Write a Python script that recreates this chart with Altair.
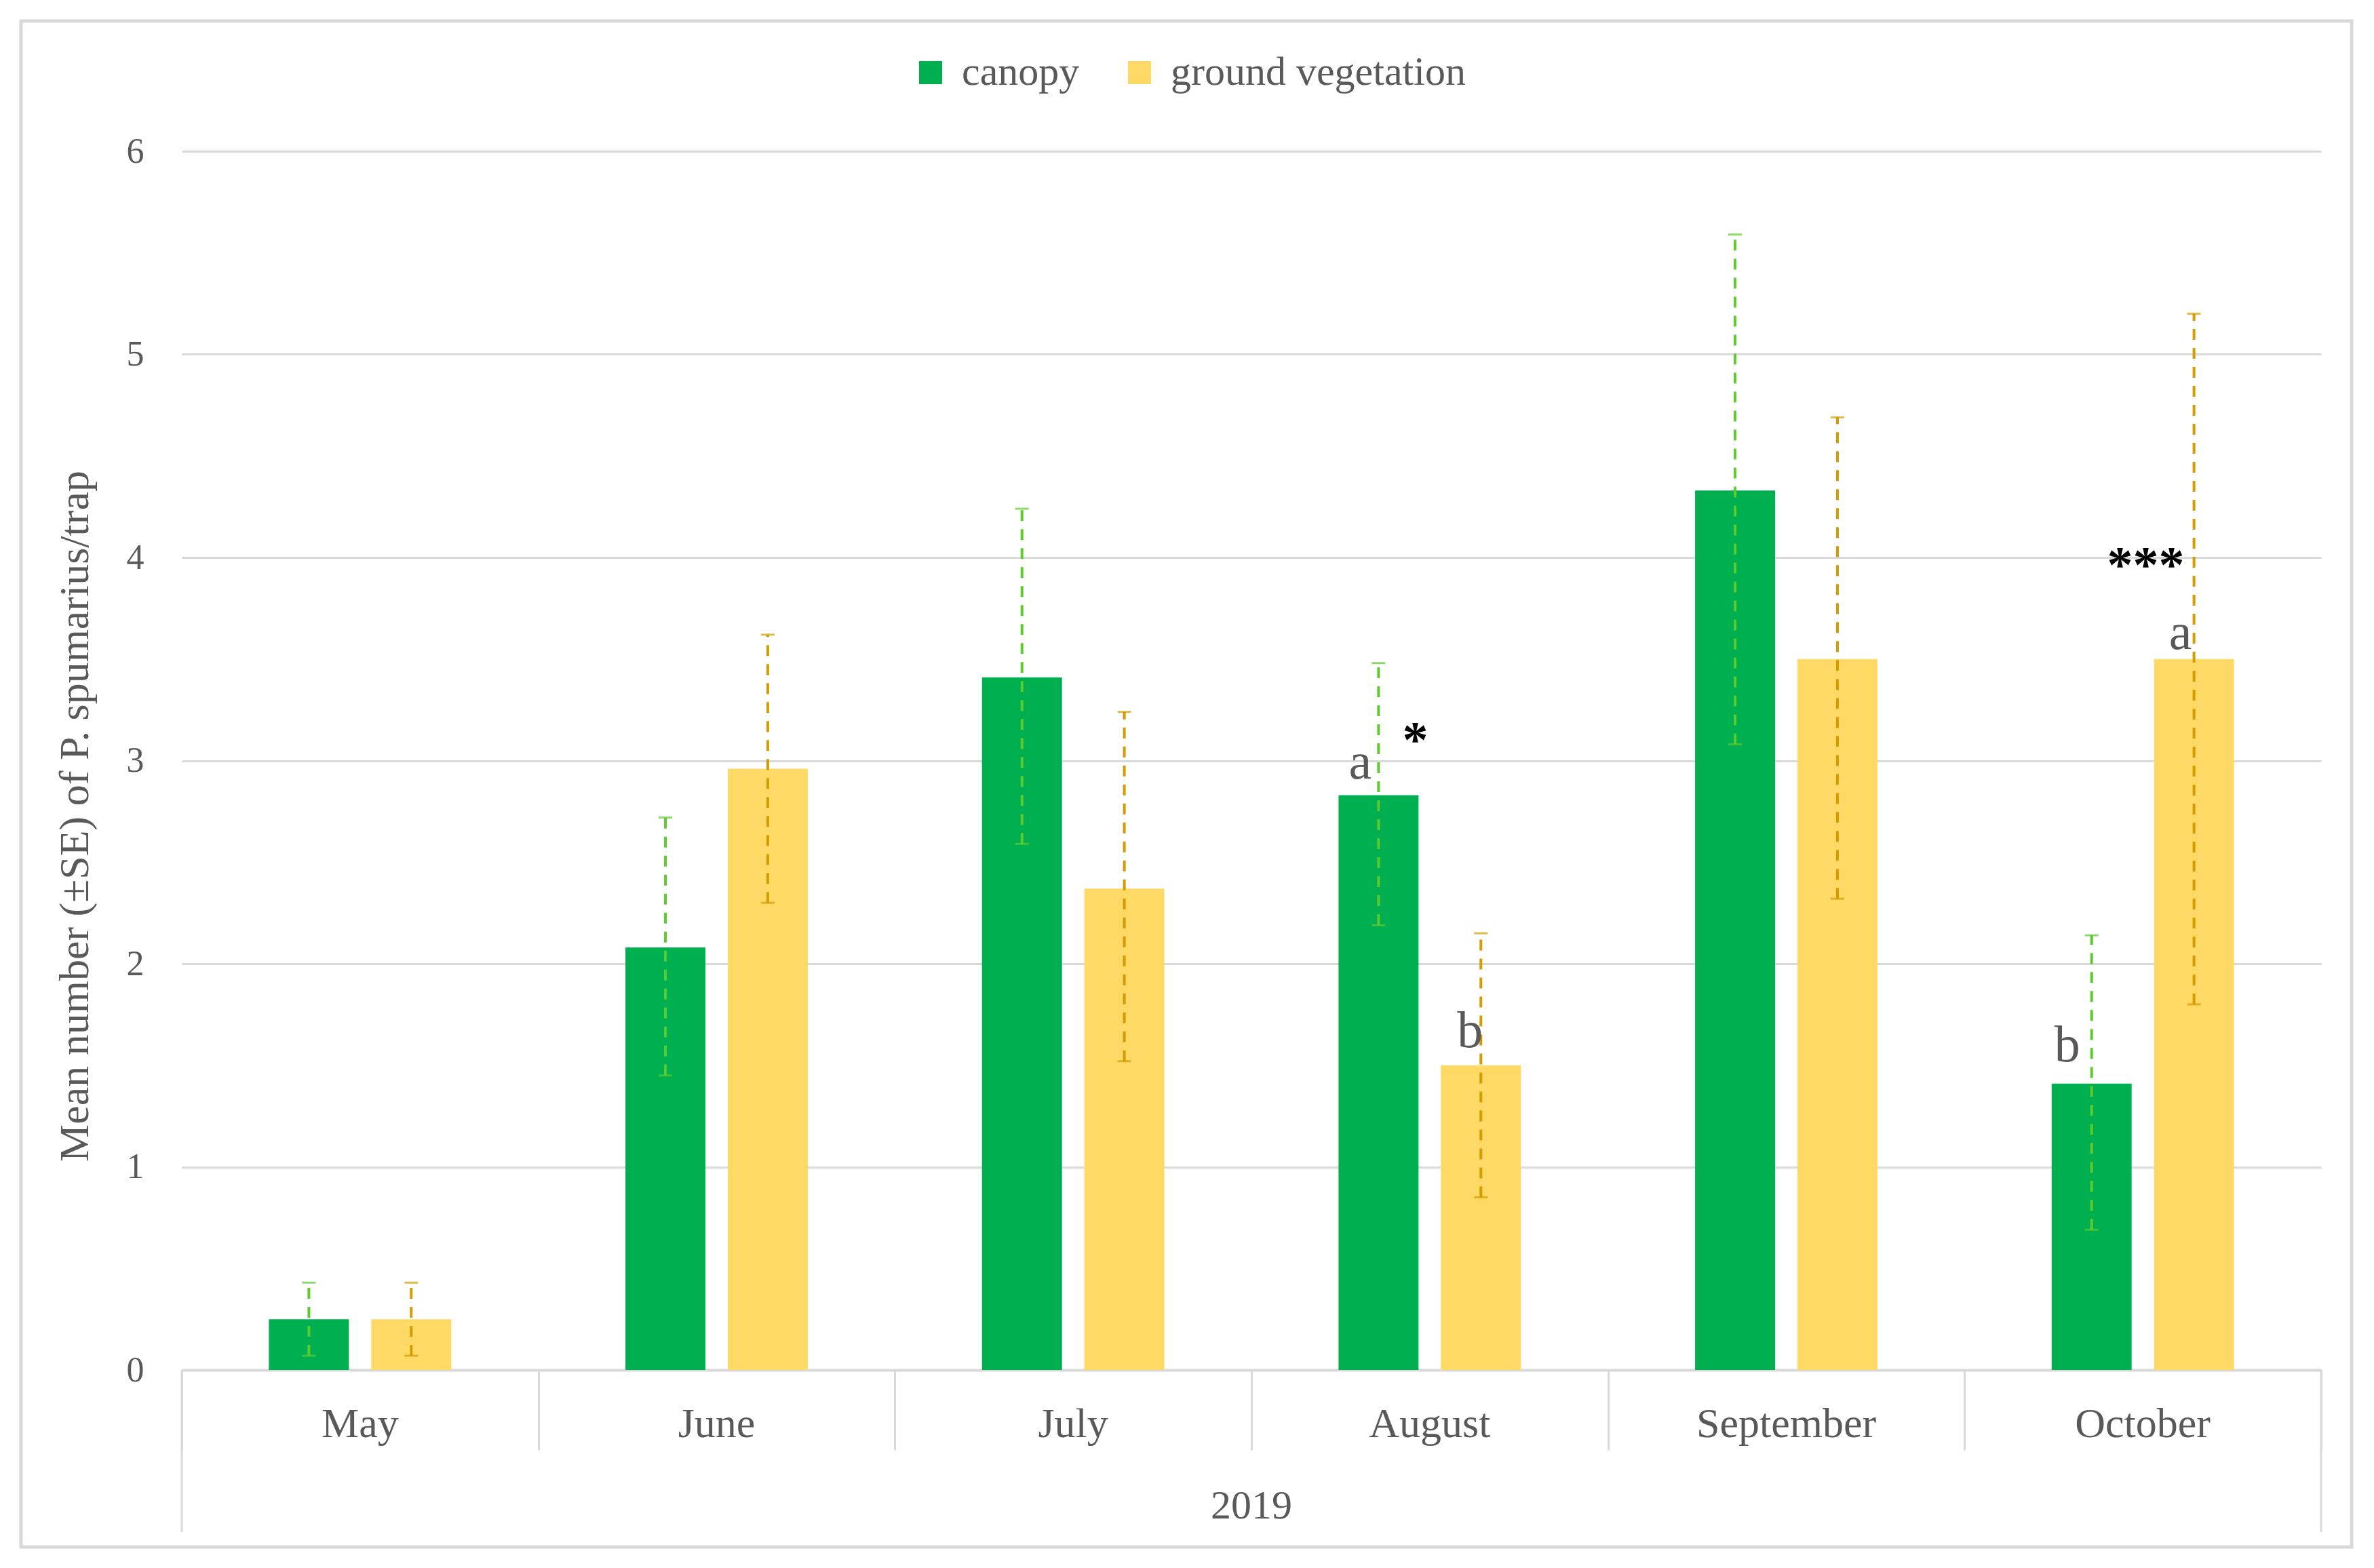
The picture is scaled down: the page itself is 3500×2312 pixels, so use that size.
import altair as alt
import pandas as pd

# ---------------- data ----------------
months = ["May", "June", "July", "August", "September", "October"]
series = ["canopy", "ground vegetation"]
canopy_mean = [0.25, 2.08, 3.41, 2.83, 4.33, 1.41]
canopy_low = [0.07, 1.45, 2.59, 2.19, 3.08, 0.69]
canopy_high = [0.43, 2.72, 4.24, 3.48, 5.59, 2.14]
ground_mean = [0.25, 2.96, 2.37, 1.50, 3.50, 3.50]
ground_low = [0.07, 2.30, 1.52, 0.85, 2.32, 1.80]
ground_high = [0.43, 3.62, 3.24, 2.15, 4.69, 5.20]
y_ticks = [0, 1, 2, 3, 4, 5, 6]
year_label = ["2019"]
y_title = "Mean number (±SE) of P. spumarius/trap"

annot_month = ["August", "August", "August", "October", "October", "October"]
annot_series = ["canopy", "canopy", "ground vegetation", "canopy",
                "ground vegetation", "ground vegetation"]
annot_value = [2.91, 3.02, 1.59, 1.52, 3.55, 3.88]
annot_text = ["a", "*", "b", "b", "a", "***"]

# ---------------- tables ----------------
rows = []
for i, m in enumerate(months):
    rows.append(dict(month=m, series=series[0], mean=canopy_mean[i],
                     low=canopy_low[i], high=canopy_high[i]))
    rows.append(dict(month=m, series=series[1], mean=ground_mean[i],
                     low=ground_low[i], high=ground_high[i]))
df = pd.DataFrame(rows)
df_months = pd.DataFrame({"month": months})
df_year = pd.DataFrame({"year": year_label})
df_one = pd.DataFrame({"k": [0]})

W, H = 3154, 1797
FONT = "Liberation Serif"
GRAY = "#595959"
LINE = "#D9D9D9"
bar_colors = ["#00B050", "#FFD966"]
err_colors = ["#5CCB2E", "#D49C00"]

x_enc = alt.X(
    "month:N", sort=months,
    scale=alt.Scale(domain=months, paddingInner=0, paddingOuter=0),
    axis=alt.Axis(title=None, labels=False, ticks=True, tickBand="extent",
                  tickSize=118, tickColor=LINE, tickWidth=3,
                  domainColor=LINE, domainWidth=4, grid=False),
)
xo_enc = alt.XOffset("series:N",
                     scale=alt.Scale(domain=series, paddingInner=0.2185,
                                     paddingOuter=0.851))


def y_enc(field):
    return alt.Y(
        f"{field}:Q", title=y_title,
        scale=alt.Scale(domain=[0, 6], nice=False, zero=True),
        axis=alt.Axis(values=y_ticks, domain=False, ticks=False, grid=True,
                      gridColor=LINE, gridWidth=3, labelFont=FONT,
                      labelFontSize=52, labelColor=GRAY, labelPadding=56,
                      titleFont=FONT, titleFontSize=62, titleColor=GRAY,
                      titleFontWeight="normal", titlePadding=44, titleY=980),
    )


bars = alt.Chart(df).mark_bar().encode(
    x=x_enc, xOffset=xo_enc, y=y_enc("mean"),
    color=alt.Color(
        "series:N",
        scale=alt.Scale(domain=series, range=bar_colors),
        legend=alt.Legend(title=None, orient="none", direction="horizontal",
                          legendX=1074, legendY=-146, symbolType="square",
                          symbolSize=1156, symbolStrokeWidth=0,
                          labelFont=FONT, labelFontSize=60, labelColor=GRAY,
                          labelOffset=16, columnPadding=58, labelLimit=0),
    ),
)

layers = [bars]
for s, c in zip(series, err_colors):
    base = alt.Chart(df).transform_filter(alt.datum.series == s)
    layers.append(base.mark_rule(color=c, strokeWidth=4, strokeDash=[16, 12]).encode(
        x=x_enc, xOffset=xo_enc, y=y_enc("low"), y2="high:Q"))
    layers.append(base.mark_tick(color=c, orient="horizontal", size=20,
                                 thickness=3).encode(
        x=x_enc, xOffset=xo_enc, y=y_enc("high")))
    layers.append(base.mark_tick(color=c, orient="horizontal", size=20,
                                 thickness=3).encode(
        x=x_enc, xOffset=xo_enc, y=y_enc("low")))

# annotations
annot_dx = [-27, 54, -16, -36, -20, -71]
for m, s, v, t, dx in zip(annot_month, annot_series, annot_value, annot_text, annot_dx):
    d = pd.DataFrame({"month": [m], "series": [s], "v": [v], "t": [t]})
    star = "*" in t
    layers.append(alt.Chart(d).mark_text(
        dx=dx, baseline="alphabetic", align="center", font=FONT,
        fontSize=76, fontWeight="bold" if star else "normal",
        color="#000000" if star else GRAY,
    ).encode(x=x_enc, xOffset=xo_enc, y=y_enc("v"), text="t:N"))

# month labels and year label
layers.append(alt.Chart(df_months).mark_text(
    baseline="middle", font=FONT, fontSize=62, color=GRAY).encode(
    x=x_enc, y=alt.value(H + 80), text="month:N"))
layers.append(alt.Chart(df_year).mark_text(
    baseline="middle", font=FONT, fontSize=60, color=GRAY).encode(
    x=alt.value(W / 2), y=alt.value(H + 201), text="year:N"))

# outer category bracket lines
for xv in [0, W]:
    layers.append(alt.Chart(df_one).mark_rule(color=LINE, strokeWidth=3).encode(
        x=alt.value(xv), y=alt.value(H), y2=alt.value(H + 239)))

# figure frame
layers.append(alt.Chart(df_one).mark_rect(
    fillOpacity=0, stroke=LINE, strokeWidth=5).encode(
    x=alt.value(-237), x2=alt.value(3199), y=alt.value(-192), y2=alt.value(2058)))

chart = alt.layer(*layers).properties(
    width=W, height=H,
    autosize=alt.AutoSizeParams(type="none"),
    padding={"left": 260, "top": 215, "right": 70, "bottom": 284},
).configure_view(stroke=None)

chart.save("out.html", embed_options={"renderer": "svg", "actions": False})
